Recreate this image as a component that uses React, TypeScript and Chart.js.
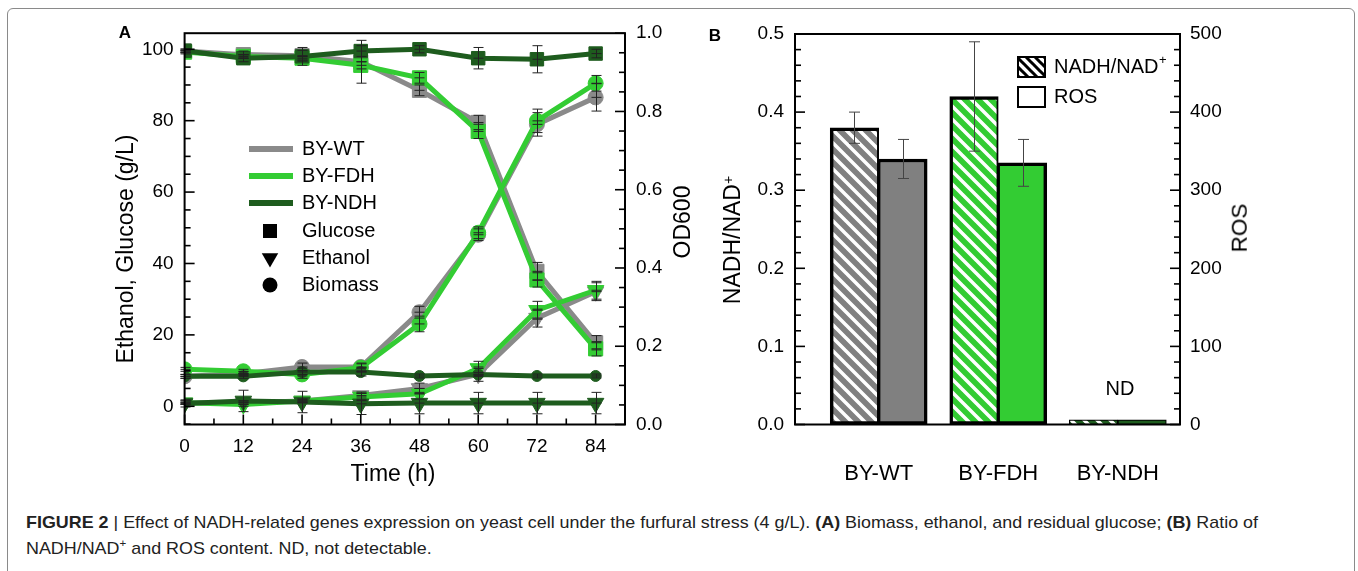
import React, { useEffect, useRef } from 'react';
import { Chart, registerables } from 'chart.js';

Chart.register(...registerables);

const FONT = '"Liberation Sans", Arial, Helvetica, sans-serif';
Chart.defaults.font.family = FONT;
Chart.defaults.color = '#000';

// ---------- Panel A data ----------
const timePoints = [0, 12, 24, 36, 48, 60, 72, 84];
const strainNames = ['BY-WT', 'BY-FDH', 'BY-NDH'];
const lineColors = ['#8a8a8a', '#33cc33', '#1e5c1e'];
const markerNames = ['Glucose', 'Ethanol', 'Biomass'];

const glucoseWT = [99.5, 98.5, 98.2, 96.5, 88.5, 79.5, 37.8, 17.8];
const glucoseWTErr = [0.5, 1, 1.5, 6, 1.5, 2, 2.5, 2];
const glucoseFDH = [99.2, 98, 97.5, 95.5, 92, 77, 35.4, 16.1];
const glucoseFDHErr = [0.5, 0.5, 0.5, 1, 1.5, 2, 2, 2];
const glucoseNDH = [99.6, 97.5, 98, 99.5, 100, 97.5, 97.2, 98.8];
const glucoseNDHErr = [0.5, 1, 2.5, 1.5, 1, 3, 3.8, 1.2];

const ethanolWT = [1, 1, 1.5, 3, 5, 9, 24.7, 32.1];
const ethanolWTErr = [0.5, 0.5, 0.5, 1, 1.5, 2, 2.5, 2.5];
const ethanolFDH = [1, 0.5, 1.5, 2.6, 3.5, 10.6, 26.9, 32.5];
const ethanolFDHErr = [0.5, 0.5, 0.5, 1, 1.5, 2, 2.5, 2.5];
const ethanolNDH = [0.8, 1.5, 1.2, 0.7, 0.9, 0.9, 0.9, 0.9];
const ethanolNDHErr = [1, 3, 3, 3, 3, 3, 3, 3];

const biomassWT = [0.123, 0.13, 0.147, 0.147, 0.287, 0.485, 0.767, 0.836];
const biomassWTErr = [0.005, 0.005, 0.01, 0.01, 0.015, 0.015, 0.03, 0.035];
const biomassFDH = [0.141, 0.136, 0.128, 0.145, 0.257, 0.49, 0.776, 0.872];
const biomassFDHErr = [0.005, 0.005, 0.01, 0.01, 0.02, 0.015, 0.03, 0.02];
const biomassNDH = [0.123, 0.123, 0.134, 0.134, 0.124, 0.128, 0.124, 0.124];
const biomassNDHErr = [0.005, 0.005, 0.01, 0.01, 0.005, 0.005, 0.005, 0.005];

// ---------- Panel B data ----------
const barCategories = [1, 2, 3];
const barLabels = ['BY-WT', 'BY-FDH', 'BY-NDH'];
const barColors = ['#808080', '#33cc33', '#1e5c1e'];
const nadhRatio = [0.38, 0.42, 0.006];
const nadhRatioErr = [0.02, 0.07, 0];
const rosContent = [340, 335, 6];
const rosContentErr = [25, 30, 0];

// ---------- helpers ----------
function hatch(bg: string, stripe: string, size = 13, lw = 3.5) {
  const c = document.createElement('canvas');
  c.width = size;
  c.height = size;
  const g = c.getContext('2d')!;
  g.fillStyle = bg;
  g.fillRect(0, 0, size, size);
  g.strokeStyle = stripe;
  g.lineWidth = lw;
  g.beginPath();
  for (let k = -1; k <= 1; k++) {
    g.moveTo(-1, k * size - 1);
    g.lineTo(size + 1, size + k * size + 1);
  }
  g.stroke();
  return g.createPattern(c, 'repeat')!;
}

const frameTicksPlugin = {
  id: 'frameTicks',
  afterDraw(chart: any, _a: any, opts: any) {
    const { ctx, chartArea: a } = chart;
    ctx.save();
    ctx.strokeStyle = '#000';
    ctx.lineWidth = 1.6;
    for (const spec of opts.specs || []) {
      const scale = chart.scales[spec.id];
      const n = Math.round((spec.to - spec.from) / spec.minor);
      for (let i = 0; i <= n; i++) {
        const v = spec.from + i * spec.minor;
        const r = v / spec.major;
        const isMajor = Math.abs(r - Math.round(r)) < 1e-6;
        const len = isMajor ? 10 : 6;
        const p = scale.getPixelForValue(v);
        ctx.beginPath();
        if (spec.side === 'bottom') {
          ctx.moveTo(p, a.bottom);
          ctx.lineTo(p, a.bottom - len);
        } else if (spec.side === 'left') {
          ctx.moveTo(a.left, p);
          ctx.lineTo(a.left + len, p);
        } else {
          ctx.moveTo(a.right, p);
          ctx.lineTo(a.right - len, p);
        }
        ctx.stroke();
      }
    }
    ctx.lineWidth = 2;
    ctx.strokeRect(a.left, a.top, a.right - a.left, a.bottom - a.top);
    ctx.restore();
  },
};

const errorBarsPlugin = {
  id: 'errorBars',
  afterDatasetsDraw(chart: any) {
    const ctx = chart.ctx;
    chart.data.datasets.forEach((ds: any, di: number) => {
      const errs = ds.errors;
      if (!errs) return;
      const meta = chart.getDatasetMeta(di);
      const yScale = chart.scales[meta.yAxisID];
      ctx.save();
      ctx.strokeStyle = ds.errorColor || '#222';
      ctx.lineWidth = 1;
      meta.data.forEach((el: any, i: number) => {
        const e = errs[i];
        if (!e) return;
        const raw = ds.data[i];
        const v = typeof raw === 'number' ? raw : raw.y;
        const x = Math.round(el.x) + 0.5;
        const y1 = yScale.getPixelForValue(v + e);
        const y2 = yScale.getPixelForValue(v - e);
        const cap = ds.errorCap || 5;
        ctx.beginPath();
        ctx.moveTo(x, y1);
        ctx.lineTo(x, y2);
        ctx.moveTo(x - cap, y1);
        ctx.lineTo(x + cap, y1);
        ctx.moveTo(x - cap, y2);
        ctx.lineTo(x + cap, y2);
        if (ds.errorCross) {
          const yc = yScale.getPixelForValue(v);
          ctx.moveTo(x - cap, yc);
          ctx.lineTo(x + cap, yc);
        }
        ctx.stroke();
      });
      ctx.restore();
    });
  },
};

const legendAPlugin = {
  id: 'legendA',
  afterDraw(chart: any) {
    const ctx = chart.ctx;
    ctx.save();
    ctx.font = `20px ${FONT}`;
    ctx.textBaseline = 'middle';
    const lineRows = [149, 176, 203];
    strainNames.forEach((name, i) => {
      const y = lineRows[i];
      ctx.strokeStyle = lineColors[i];
      ctx.lineWidth = 6;
      ctx.beginPath();
      ctx.moveTo(249, y);
      ctx.lineTo(293, y);
      ctx.stroke();
      ctx.fillStyle = '#000';
      ctx.fillText(name, 302, y);
    });
    const markRows = [231, 258, 285];
    const mx = 270;
    ctx.fillStyle = '#000';
    ctx.fillRect(mx - 7, markRows[0] - 7, 14, 14);
    const r = 9.5;
    const ty = markRows[1];
    ctx.beginPath();
    ctx.moveTo(mx, ty + r);
    ctx.lineTo(mx - r * 0.866, ty - r / 2);
    ctx.lineTo(mx + r * 0.866, ty - r / 2);
    ctx.closePath();
    ctx.fill();
    ctx.beginPath();
    ctx.arc(mx, markRows[2], 7.5, 0, Math.PI * 2);
    ctx.fill();
    markerNames.forEach((m, i) => ctx.fillText(m, 302, markRows[i]));
    ctx.restore();
  },
};

const legendBPlugin = {
  id: 'legendB',
  afterDraw(chart: any) {
    const ctx = chart.ctx;
    const ox = 690;
    ctx.save();
    const bx = 1018 - ox;
    ctx.fillStyle = hatch('#ffffff', '#000000', 9, 3);
    ctx.fillRect(bx, 57, 27, 20);
    ctx.strokeStyle = '#000';
    ctx.lineWidth = 2;
    ctx.strokeRect(bx, 57, 27, 20);
    ctx.fillStyle = '#fff';
    ctx.fillRect(bx, 87, 27, 20);
    ctx.strokeRect(bx, 87, 27, 20);
    ctx.fillStyle = '#000';
    ctx.font = `20px ${FONT}`;
    ctx.textBaseline = 'middle';
    ctx.fillText('NADH/NAD', 1054 - ox, 67);
    const w = ctx.measureText('NADH/NAD').width;
    ctx.font = `13px ${FONT}`;
    ctx.fillText('+', 1054 - ox + w + 0.5, 60);
    ctx.font = `20px ${FONT}`;
    ctx.fillText('ROS', 1054 - ox, 97);
    ctx.textAlign = 'center';
    ctx.fillText('ND', 1120 - ox, 389);
    ctx.restore();
  },
};

function dsA(values: number[], errors: number[], strain: number, kind: number, axis: string, radius: number) {
  const style = kind === 0 ? 'rect' : kind === 1 ? 'triangle' : 'circle';
  return {
    data: timePoints.map((t, i) => ({ x: t, y: values[i] })),
    errors,
    errorCap: 5,
    errorCross: true,
    yAxisID: axis,
    borderColor: lineColors[strain],
    backgroundColor: lineColors[strain],
    borderWidth: 5,
    pointStyle: style,
    pointRotation: kind === 1 ? 180 : 0,
    pointRadius: radius,
    pointBorderWidth: 1,
    pointBorderColor: lineColors[strain],
    pointBackgroundColor: lineColors[strain],
    tension: 0,
  };
}

const tickFont = { size: 19, family: FONT };

function ChartA() {
  const ref = useRef<HTMLCanvasElement>(null);
  useEffect(() => {
    const chart = new Chart(ref.current!, {
      type: 'line',
      data: {
        datasets: [
          dsA(glucoseNDH, glucoseNDHErr, 2, 0, 'y', 9.5),
          dsA(ethanolNDH, ethanolNDHErr, 2, 1, 'y', 9.5),
          dsA(biomassNDH, biomassNDHErr, 2, 2, 'y2', 5.5),
          dsA(glucoseFDH, glucoseFDHErr, 1, 0, 'y', 10),
          dsA(ethanolFDH, ethanolFDHErr, 1, 1, 'y', 9.5),
          dsA(biomassFDH, biomassFDHErr, 1, 2, 'y2', 7.5),
          dsA(glucoseWT, glucoseWTErr, 0, 0, 'y', 10),
          dsA(ethanolWT, ethanolWTErr, 0, 1, 'y', 9.5),
          dsA(biomassWT, biomassWTErr, 0, 2, 'y2', 7.5),
        ] as any,
      },
      options: {
        responsive: false,
        animation: false,
        devicePixelRatio: 1,
        events: [],
        layout: { padding: { top: 33.2, left: 0, right: 0, bottom: 0 } },
        plugins: {
          legend: { display: false },
          tooltip: { enabled: false },
          frameTicks: {
            specs: [
              { id: 'x', side: 'bottom', from: 0, to: 90, minor: 6, major: 12 },
              { id: 'y', side: 'left', from: -5, to: 100, minor: 5, major: 20 },
              { id: 'y2', side: 'right', from: 0, to: 1, minor: 0.05, major: 0.2 },
            ],
          },
        } as any,
        scales: {
          x: {
            type: 'linear',
            min: 0,
            max: 90,
            offset: false,
            afterFit: (s: any) => { s.height = 75.5; },
            grid: { display: false, drawTicks: false },
            border: { display: false },
            ticks: { stepSize: 12, includeBounds: false, padding: 11, font: tickFont, color: '#000', maxRotation: 0, autoSkip: false },
          },
          y: {
            type: 'linear',
            position: 'left',
            min: -5.1,
            max: 104.5,
            afterFit: (s: any) => { s.width = 184.6; },
            grid: { display: false, drawTicks: false },
            border: { display: false },
            ticks: { stepSize: 20, includeBounds: false, padding: 11, font: tickFont, color: '#000' },
          },
          y2: {
            type: 'linear',
            position: 'right',
            min: 0,
            max: 1,
            afterFit: (s: any) => { s.width = 65; },
            grid: { display: false, drawTicks: false },
            border: { display: false },
            ticks: { stepSize: 0.2, padding: 11, font: tickFont, color: '#000', callback: (v: any) => Number(v).toFixed(1) },
          },
        } as any,
      },
      plugins: [frameTicksPlugin, errorBarsPlugin, legendAPlugin],
    });
    return () => chart.destroy();
  }, []);
  return <canvas ref={ref} width={690} height={500} style={{ position: 'absolute', left: 0, top: 0, width: 690, height: 500 }} />;
}

function ChartB() {
  const ref = useRef<HTMLCanvasElement>(null);
  useEffect(() => {
    const hatched = barColors.map((c) => hatch(c, '#ffffff'));
    const thick = 3.5;
    const chart = new Chart(ref.current!, {
      type: 'bar',
      data: {
        datasets: [
          {
            data: barCategories.map((x, i) => ({ x, y: nadhRatio[i] })),
            errors: nadhRatioErr,
            errorCap: 5.5,
            errorColor: '#444',
            yAxisID: 'y',
            backgroundColor: hatched,
            borderColor: '#000',
            borderWidth: [
              { left: thick, top: thick, right: 2, bottom: thick },
              { left: thick, top: thick, right: 2, bottom: thick },
              1.2,
            ],
            borderSkipped: false,
            barThickness: 48.5,
          },
          {
            data: barCategories.map((x, i) => ({ x, y: rosContent[i] })),
            errors: rosContentErr,
            errorCap: 5.5,
            errorColor: '#444',
            yAxisID: 'y2',
            backgroundColor: barColors,
            borderColor: '#000',
            borderWidth: [
              { left: 2, top: thick, right: thick, bottom: thick },
              { left: 2, top: thick, right: thick, bottom: thick },
              1.2,
            ],
            borderSkipped: false,
            barThickness: 48.5,
          },
        ] as any,
      },
      options: {
        responsive: false,
        animation: false,
        devicePixelRatio: 1,
        events: [],
        layout: { padding: { top: 34, left: 0, right: 0, bottom: 0 } },
        plugins: {
          legend: { display: false },
          tooltip: { enabled: false },
          frameTicks: {
            specs: [
              { id: 'y', side: 'left', from: 0, to: 0.5, minor: 0.02, major: 0.1 },
              { id: 'y2', side: 'right', from: 0, to: 500, minor: 20, major: 100 },
            ],
          },
        } as any,
        scales: {
          x: {
            type: 'linear',
            min: 0.3,
            max: 3.52,
            offset: false,
            afterFit: (s: any) => { s.height = 75.5; },
            grid: { display: false, drawTicks: false, offset: false },
            border: { display: false },
            ticks: {
              stepSize: 1,
              includeBounds: false,
              padding: 36,
              font: { size: 22, family: FONT },
              color: '#000',
              maxRotation: 0,
              autoSkip: false,
              callback: (v: any) => barLabels[barCategories.indexOf(Number(v))] ?? '',
            },
          },
          y: {
            type: 'linear',
            position: 'left',
            min: 0,
            max: 0.5,
            afterFit: (s: any) => { s.width = 105; },
            grid: { display: false, drawTicks: false },
            border: { display: false },
            ticks: { stepSize: 0.1, padding: 11, font: tickFont, color: '#000', callback: (v: any) => Number(v).toFixed(1) },
          },
          y2: {
            type: 'linear',
            position: 'right',
            min: 0,
            max: 500,
            afterFit: (s: any) => { s.width = 178; },
            grid: { display: false, drawTicks: false },
            border: { display: false },
            ticks: { stepSize: 100, padding: 10, font: tickFont, color: '#000' },
          },
        } as any,
      },
      plugins: [frameTicksPlugin, errorBarsPlugin, legendBPlugin],
    });
    return () => chart.destroy();
  }, []);
  return <canvas ref={ref} width={668} height={500} style={{ position: 'absolute', left: 690, top: 0, width: 668, height: 500 }} />;
}

function VText({ x, y, size, children }: { x: number; y: number; size: number; children: React.ReactNode }) {
  return (
    <div
      style={{
        position: 'absolute',
        left: x,
        top: y,
        transform: 'translate(-50%, -50%) rotate(-90deg)',
        whiteSpace: 'nowrap',
        fontFamily: FONT,
        fontSize: size,
        lineHeight: 1,
        color: '#000',
      }}
    >
      {children}
    </div>
  );
}

function Caption() {
  const l1 = useRef<HTMLSpanElement>(null);
  const l2 = useRef<HTMLSpanElement>(null);
  useEffect(() => {
    const w = l1.current!.getBoundingClientRect().width;
    const s = 1232 / w;
    l1.current!.style.transform = `scaleX(${s})`;
    l2.current!.style.transform = `scaleX(${s})`;
  }, []);
  const base: React.CSSProperties = {
    position: 'absolute',
    left: 26,
    width: 'max-content',
    whiteSpace: 'nowrap',
    fontFamily: FONT,
    fontSize: 17,
    lineHeight: '20px',
    color: '#222',
    transformOrigin: 'left center',
  };
  return (
    <>
      <span ref={l1} style={{ ...base, top: 513 }}>
        <b>FIGURE 2</b> | Effect of NADH-related genes expression on yeast cell under the furfural stress (4 g/L). <b>(A)</b> Biomass, ethanol, and residual glucose; <b>(B)</b> Ratio of
      </span>
      <span ref={l2} style={{ ...base, top: 539 }}>
        NADH/NAD<sup style={{ fontSize: 11, lineHeight: 0 }}>+</sup> and ROS content. ND, not detectable.
      </span>
    </>
  );
}

export default function App() {
  return (
    <div style={{ position: 'fixed', left: 0, top: 0, width: 1358, height: 571, background: '#fff', overflow: 'hidden' }}>
      <div
        style={{
          position: 'absolute',
          left: 7,
          top: 8,
          width: 1346,
          height: 620,
          border: '1.5px solid #8a8a8a',
          borderRadius: 6,
        }}
      />
      <ChartA />
      <ChartB />
      <div style={{ position: 'absolute', left: 125, top: 33, transform: 'translate(-50%,-50%)', fontFamily: FONT, fontWeight: 'bold', fontSize: 17 }}>A</div>
      <div style={{ position: 'absolute', left: 715, top: 36, transform: 'translate(-50%,-50%)', fontFamily: FONT, fontWeight: 'bold', fontSize: 17 }}>B</div>
      <VText x={125} y={249} size={23}>Ethanol, Glucose (g/L)</VText>
      <VText x={682} y={222} size={23}>OD600</VText>
      <VText x={732} y={240} size={23}>
        NADH/NAD<sup style={{ fontSize: 14, lineHeight: 0, verticalAlign: '0.5em' }}>+</sup>
      </VText>
      <VText x={1240} y={228} size={22.5}>ROS</VText>
      <div style={{ position: 'absolute', left: 393, top: 473, transform: 'translate(-50%,-50%)', fontFamily: FONT, fontSize: 23, whiteSpace: 'nowrap' }}>Time (h)</div>
      <Caption />
    </div>
  );
}
